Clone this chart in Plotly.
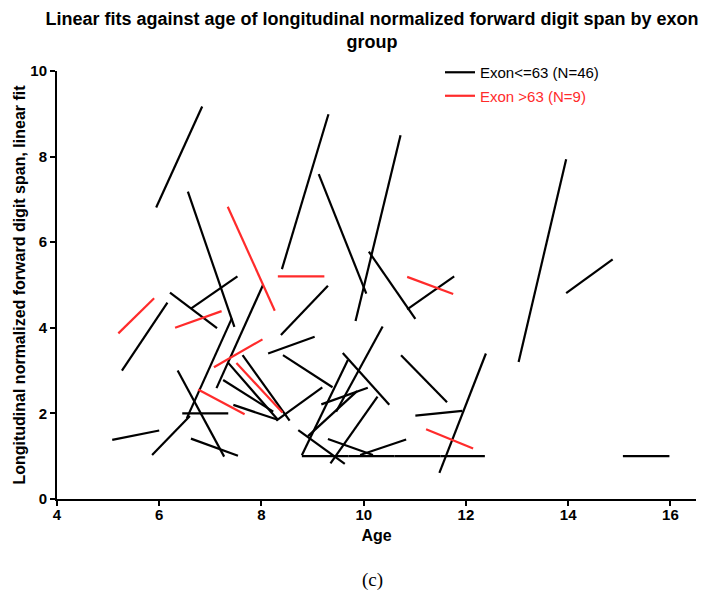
import plotly.graph_objects as go

# linear fits per subject: age at first / last visit and fitted span at those ages
low_age_start = [5.94, 6.56, 6.62, 8.40, 9.12, 9.84, 10.10, 10.85, 8.38, 13.03,
                 13.96, 11.48, 8.79, 9.70, 10.60, 11.50, 15.07, 9.59, 8.79, 8.13,
                 8.42, 8.29, 9.17, 8.72, 9.35, 9.30, 9.93, 9.46, 10.73, 11.01,
                 5.27, 6.21, 7.12, 5.86, 6.54, 7.25, 7.35, 7.63, 7.45, 6.45,
                 6.36, 5.08, 6.62, 8.91]
low_age_end = [6.84, 7.47, 7.53, 9.31, 10.05, 10.72, 11.01, 11.77, 9.30, 13.96,
               14.87, 12.39, 9.70, 10.60, 11.50, 12.37, 15.98, 10.50, 9.69, 9.04,
               9.39, 9.19, 10.08, 9.63, 10.27, 10.18, 10.83, 10.37, 11.63, 11.93,
               6.16, 7.13, 8.03, 6.60, 7.42, 8.23, 8.32, 8.55, 8.32, 7.35,
               7.27, 6.00, 7.54, 9.87]
low_fit_start = [6.81, 7.18, 4.45, 5.37, 7.59, 4.16, 5.78, 4.43, 3.83, 3.20,
                 4.81, 0.61, 1.00, 1.00, 1.00, 1.00, 1.00, 3.41, 1.02, 3.40,
                 3.36, 1.83, 2.21, 1.61, 0.83, 1.40, 1.03, 2.04, 3.36, 1.95,
                 3.00, 4.82, 2.59, 1.03, 1.89, 2.78, 3.18, 3.36, 2.20, 2.00,
                 3.00, 1.38, 1.41, 1.47]
low_fit_end = [9.17, 4.02, 5.20, 8.99, 4.80, 8.50, 4.21, 5.20, 4.98, 7.94,
               5.60, 3.40, 1.00, 1.00, 1.00, 1.00, 1.00, 2.20, 3.25, 3.79,
               2.61, 2.61, 2.60, 0.82, 2.39, 1.03, 1.39, 4.03, 2.26, 2.06,
               4.59, 3.99, 5.00, 1.94, 4.22, 2.04, 1.85, 1.83, 1.85, 2.00,
               0.99, 1.60, 1.01, 2.52]

high_age_start = [5.20, 6.31, 7.34, 7.07, 7.51, 6.76, 8.32, 10.85, 11.22]
high_age_end = [5.90, 7.22, 8.26, 8.02, 8.41, 7.67, 9.23, 11.75, 12.14]
high_fit_start = [3.87, 4.00, 6.83, 3.08, 3.18, 2.56, 5.20, 5.19, 1.63]
high_fit_end = [4.69, 4.39, 4.40, 3.73, 2.02, 1.98, 5.20, 4.79, 1.18]

x_ticks = [4, 6, 8, 10, 12, 14, 16]
y_ticks = [0, 2, 4, 6, 8, 10]

BLACK = "#000000"
RED = "#ff2b2b"
FONT = "Liberation Sans, Arial, sans-serif"


def segments(x0, x1, y0, y1):
    # one trace, segments split by None gaps
    xs, ys = [], []
    for a, b, c, d in zip(x0, x1, y0, y1):
        xs += [a, b, None]
        ys += [c, d, None]
    return xs, ys


fig = go.Figure()

xs, ys = segments(low_age_start, low_age_end, low_fit_start, low_fit_end)
fig.add_trace(go.Scatter(x=xs, y=ys, mode="lines", name="Exon&lt;=63 (N=46)",
                         legendgroup="low", line=dict(color=BLACK, width=2.2)))

xs, ys = segments(high_age_start, high_age_end, high_fit_start, high_fit_end)
fig.add_trace(go.Scatter(x=xs, y=ys, mode="lines",
                         name=f"<span style='color:{RED}'>Exon &gt;63 (N=9)</span>",
                         legendgroup="high", line=dict(color=RED, width=2.2)))

axis_common = dict(
    showline=True, linecolor="black", linewidth=2,
    ticks="outside", ticklen=5, tickwidth=2, tickcolor="black",
    showgrid=False, zeroline=False,
    tickfont=dict(family=FONT, size=15, color="black", weight="bold"),
)

fig.update_layout(
    width=712, height=605,
    margin=dict(l=57, r=16, t=71, b=106),
    paper_bgcolor="white", plot_bgcolor="white",
    title=dict(
        text="Linear fits against age of longitudinal normalized forward digit span by exon<br>group",
        font=dict(family=FONT, size=18, color="black", weight="bold"),
        x=372 / 712, xref="container", xanchor="center",
        y=1 - 25 / 605, yref="container", yanchor="top",
    ),
    xaxis=dict(range=[4, 16.5], tickvals=x_ticks, ticklabelstandoff=-4, **axis_common,
               title=dict(text="Age", standoff=8,
                          font=dict(family=FONT, size=16, color="black", weight="bold"))),
    yaxis=dict(range=[0, 10], tickvals=y_ticks, **axis_common,
               title=dict(text="Longitudinal normalized forward digit span, linear fit",
                          standoff=1,
                          font=dict(family=FONT, size=16, color="black", weight="bold"))),
    legend=dict(x=(440 - 57) / 639, xanchor="left", y=1.035, yanchor="top",
                font=dict(family=FONT, size=15, color="black"),
                bgcolor="rgba(0,0,0,0)", tracegroupgap=1),
    showlegend=True,
)

fig.add_annotation(text="(c)", xref="paper", yref="paper",
                   x=(372 - 57) / 639, y=(499 - 580) / 428, yanchor="middle",
                   showarrow=False, font=dict(family="Liberation Serif, serif", size=19, color="black"))

fig.write_html("out.html", config={"displayModeBar": False},
               post_script="document.body.style.margin='0px';")
